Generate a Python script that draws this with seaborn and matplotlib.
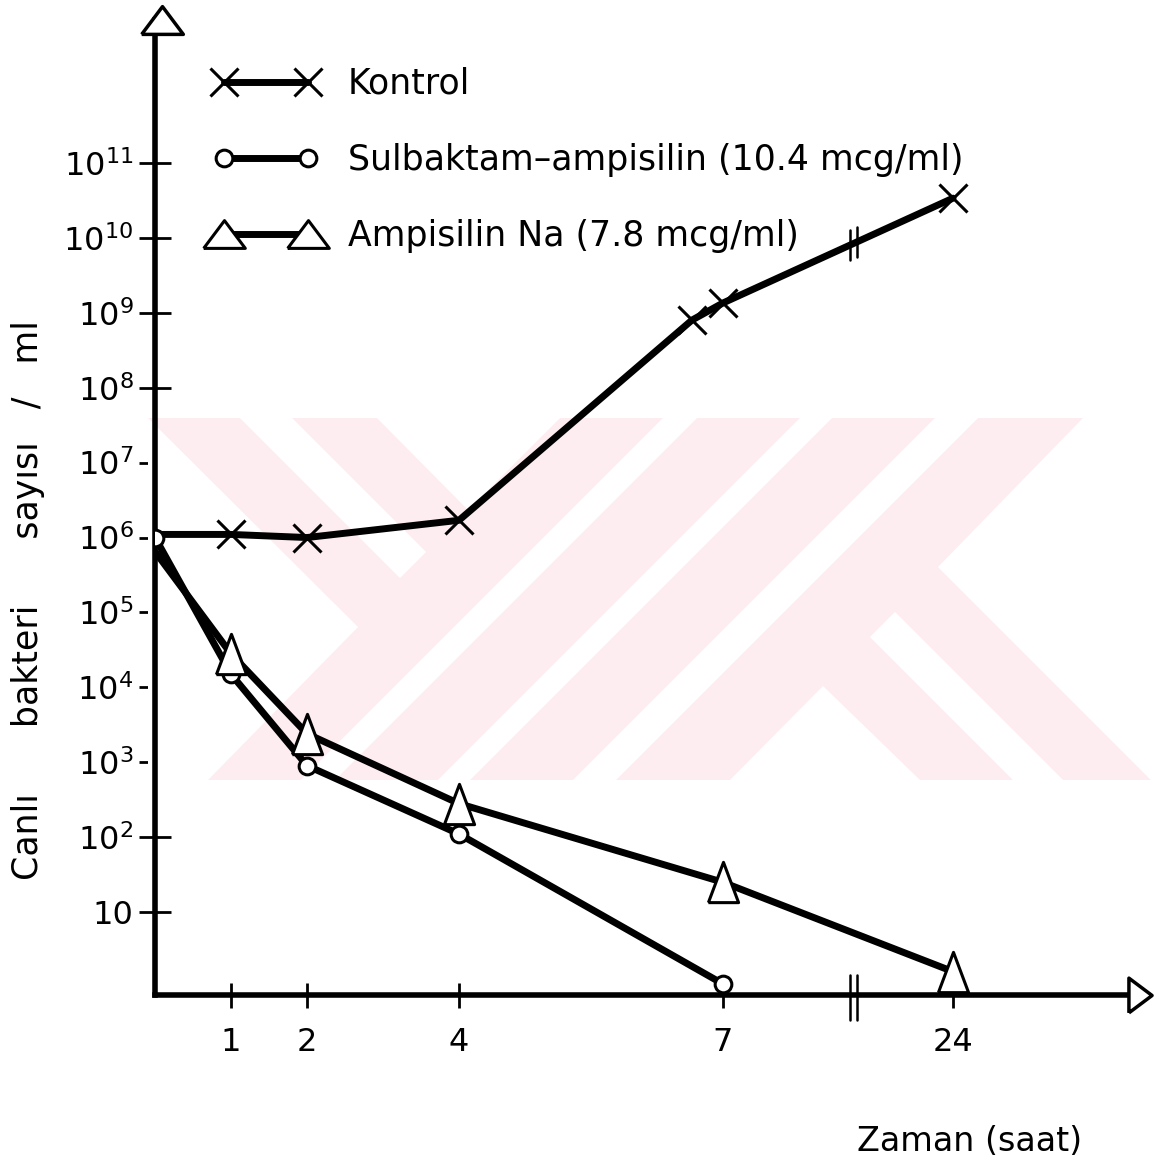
import numpy as np
import pandas as pd
import matplotlib
matplotlib.use("Agg")
import matplotlib.pyplot as plt
import matplotlib.transforms as mtransforms
from matplotlib.patches import Polygon
from matplotlib.lines import Line2D
from matplotlib.ticker import NullLocator
import seaborn as sns

# ---------------- data ----------------
hour_ticks = [1, 2, 4, 7, 24]
hour_tick_labels = ["1", "2", "4", "7", "24"]
# the time axis is broken after 7 h: hours -> drawn axis position
axis_hours = [0, 1, 2, 4, 7, 24]
axis_positions = [0, 1, 2, 4, 7.47, 10.5]
axis_break_hours = [16.4, 16.9]

kontrol_hours = [0, 1, 2, 4, 6.65, 7, 24]
kontrol_values = [1.1e6, 1.1e6, 1.0e6, 1.7e6, 8.0e8, 1.35e9, 3.4e10]

sulbaktam_hours = [0, 1, 2, 4, 7]
sulbaktam_values = [1.0e6, 1.5e4, 9.0e2, 1.1e2, 1.1]

ampisilin_hours = [0, 1, 2, 4, 7, 24]
ampisilin_values = [6.5e5, 2.8e4, 2.4e3, 2.8e2, 2.5e1, 1.6]

series_labels = ["Kontrol",
                 "Sulbaktam\u2013ampisilin (10.4 mcg/ml)",
                 "Ampisilin Na (7.8 mcg/ml)"]
ytick_exponents = list(range(1, 12))
ylabel_text = "Canlı      bakteri      sayısı   /   ml"
xlabel_text = "Zaman (saat)"

# ---------------- figure ----------------
W, H = 1159, 1163
sns.set_style("white")
plt.rcParams["font.family"] = ["DejaVu Sans"]
plt.rcParams["mathtext.fontset"] = "dejavusans"
plt.rcParams["text.color"] = "black"
plt.rcParams["axes.labelcolor"] = "black"

fig = plt.figure(figsize=(W / 100, H / 100), dpi=100)
ax = fig.add_axes([155 / W, 1 - 995 / H, 985 / W, 975 / H])
ax.set_yscale("log")


def to_pos(h):
    return np.interp(h, axis_hours, axis_positions)


tall_tri = [(-0.75, -1), (0.75, -1), (0, 1), (-0.75, -1)]
flat_tri = [(-1.5, -1), (1.5, -1), (0, 1), (-1.5, -1)]

df_k = pd.DataFrame({"pos": to_pos(kontrol_hours), "val": kontrol_values})
df_s = pd.DataFrame({"pos": to_pos(sulbaktam_hours), "val": sulbaktam_values})
df_a = pd.DataFrame({"pos": to_pos(ampisilin_hours), "val": ampisilin_values})

# the start values (0 h) of Kontrol and Ampisilin carry no symbol in the original
sns.lineplot(data=df_k, x="pos", y="val", ax=ax, color="black", linewidth=5,
             marker="x", markersize=20, markeredgewidth=2.2,
             markeredgecolor="black", markevery=list(range(1, len(df_k))),
             zorder=3, sort=False, legend=False)
sns.lineplot(data=df_s, x="pos", y="val", ax=ax, color="black", linewidth=5,
             marker="o", markersize=12, markeredgewidth=2.2, markerfacecolor="white",
             markeredgecolor="black", zorder=4, sort=False, legend=False)
sns.lineplot(data=df_a, x="pos", y="val", ax=ax, color="black", linewidth=5,
             marker=tall_tri, markersize=29, markeredgewidth=2.2,
             markerfacecolor="white", markeredgecolor="black",
             markevery=list(range(1, len(df_a))), zorder=4,
             sort=False, legend=False)

# ---------------- axes ----------------
ax.set_xlim(0, 12.96)
ax.set_ylim(10 ** -0.108, 10 ** 12.91)
ax.set_xticks(to_pos(hour_ticks))
ax.set_xticklabels(hour_tick_labels)
ax.set_yticks([10.0 ** k for k in ytick_exponents])
ax.set_yticklabels(["10" if k == 1 else rf"$10^{{{k}}}$" for k in ytick_exponents])
ax.yaxis.set_minor_locator(NullLocator())
ax.xaxis.set_minor_locator(NullLocator())

for s in ["top", "right"]:
    ax.spines[s].set_visible(False)
for s in ["left", "bottom"]:
    ax.spines[s].set_linewidth(4)
    ax.spines[s].set_color("black")

ax.tick_params(axis="y", direction="inout", length=23, width=2, pad=4,
               labelsize=23, colors="black", left=True)
ax.tick_params(axis="x", direction="inout", length=18, width=2, pad=14,
               labelsize=23, colors="black", bottom=True)

ax.set_xlabel(xlabel_text, fontsize=24, color="black")
ax.xaxis.set_label_coords(0.827, -0.133)
ax.set_ylabel(ylabel_text, fontsize=25, color="black")
ax.yaxis.set_label_coords(-0.112, 0.405)

# axis arrow heads
right_tri = [(-1, -1.5), (-1, 1.5), (1, 0), (-1, -1.5)]
ax.plot([0.007], [1.0], transform=ax.transAxes, marker=flat_tri, markersize=30,
        mfc="white", mec="black", mew=2.5, clip_on=False, zorder=6)
ax.plot([1.0], [0.0], transform=ax.transAxes, marker=right_tri, markersize=25,
        mfc="white", mec="black", mew=2.5, clip_on=False, zorder=6)

# axis break marks (x axis and control line)
xt = ax.get_xaxis_transform()
for hb in axis_break_hours:
    pb = to_pos(hb)
    ax.plot([pb, pb], [-0.026, 0.021], transform=xt, color="black", lw=1.8,
            clip_on=False, zorder=6)
    lv = np.interp(pb, to_pos(kontrol_hours), np.log10(kontrol_values))
    ax.plot([pb, pb], [10 ** (lv - 0.2), 10 ** (lv + 0.2)], color="black",
            lw=1.8, zorder=6)

# legend (marker - line - marker samples)
handles = [
    Line2D([], [], color="black", lw=5, marker="x", markersize=20, mew=2.2,
           mec="black"),
    Line2D([], [], color="black", lw=5, marker="o", markersize=12, mew=2.2,
           mfc="white", mec="black"),
    Line2D([], [], color="black", lw=5, marker=flat_tri, markersize=30, mew=2.2,
           mfc="white", mec="black"),
]
leg = ax.legend(handles, series_labels, numpoints=2, loc="upper left",
                bbox_to_anchor=(214 / W, 1 - 67 / H), bbox_transform=fig.transFigure,
                frameon=False, fontsize=25, handlelength=3.0, handletextpad=0.85,
                labelspacing=1.21, borderpad=0, borderaxespad=0)
for t in leg.get_texts():
    t.set_color("black")

# faint pink watermark logo behind the chart
pix = mtransforms.Affine2D().scale(1 / W, -1 / H).translate(0, 1) + fig.transFigure
pink = "#fdedf0"
ax.add_patch(Polygon([(148, 418), (1160, 418), (1160, 780), (148, 780)],
                     closed=True, transform=pix, facecolor=pink, edgecolor="none",
                     zorder=0.5, clip_on=False))
whites = [
    [(148, 418), (358, 627), (208, 780), (148, 780)],
    [(240, 418), (292, 418), (426, 552), (400, 578)],
    [(377, 418), (560, 418), (468, 510)],
    [(663, 418), (697, 418), (335, 780), (301, 780)],
    [(800, 418), (832, 418), (470, 780), (438, 780)],
    [(935, 418), (978, 418), (616, 780), (573, 780)],
    [(730, 780), (823, 686), (920, 780)],
    [(870, 637), (895, 612), (1063, 780), (1013, 780)],
    [(1083, 418), (1160, 418), (1160, 780), (1151, 780), (938, 567)],
]
for poly in whites:
    ax.add_patch(Polygon(poly, closed=True, transform=pix, facecolor="white",
                         edgecolor="none", zorder=0.6, clip_on=False))

fig.savefig("out.png", dpi=100)
